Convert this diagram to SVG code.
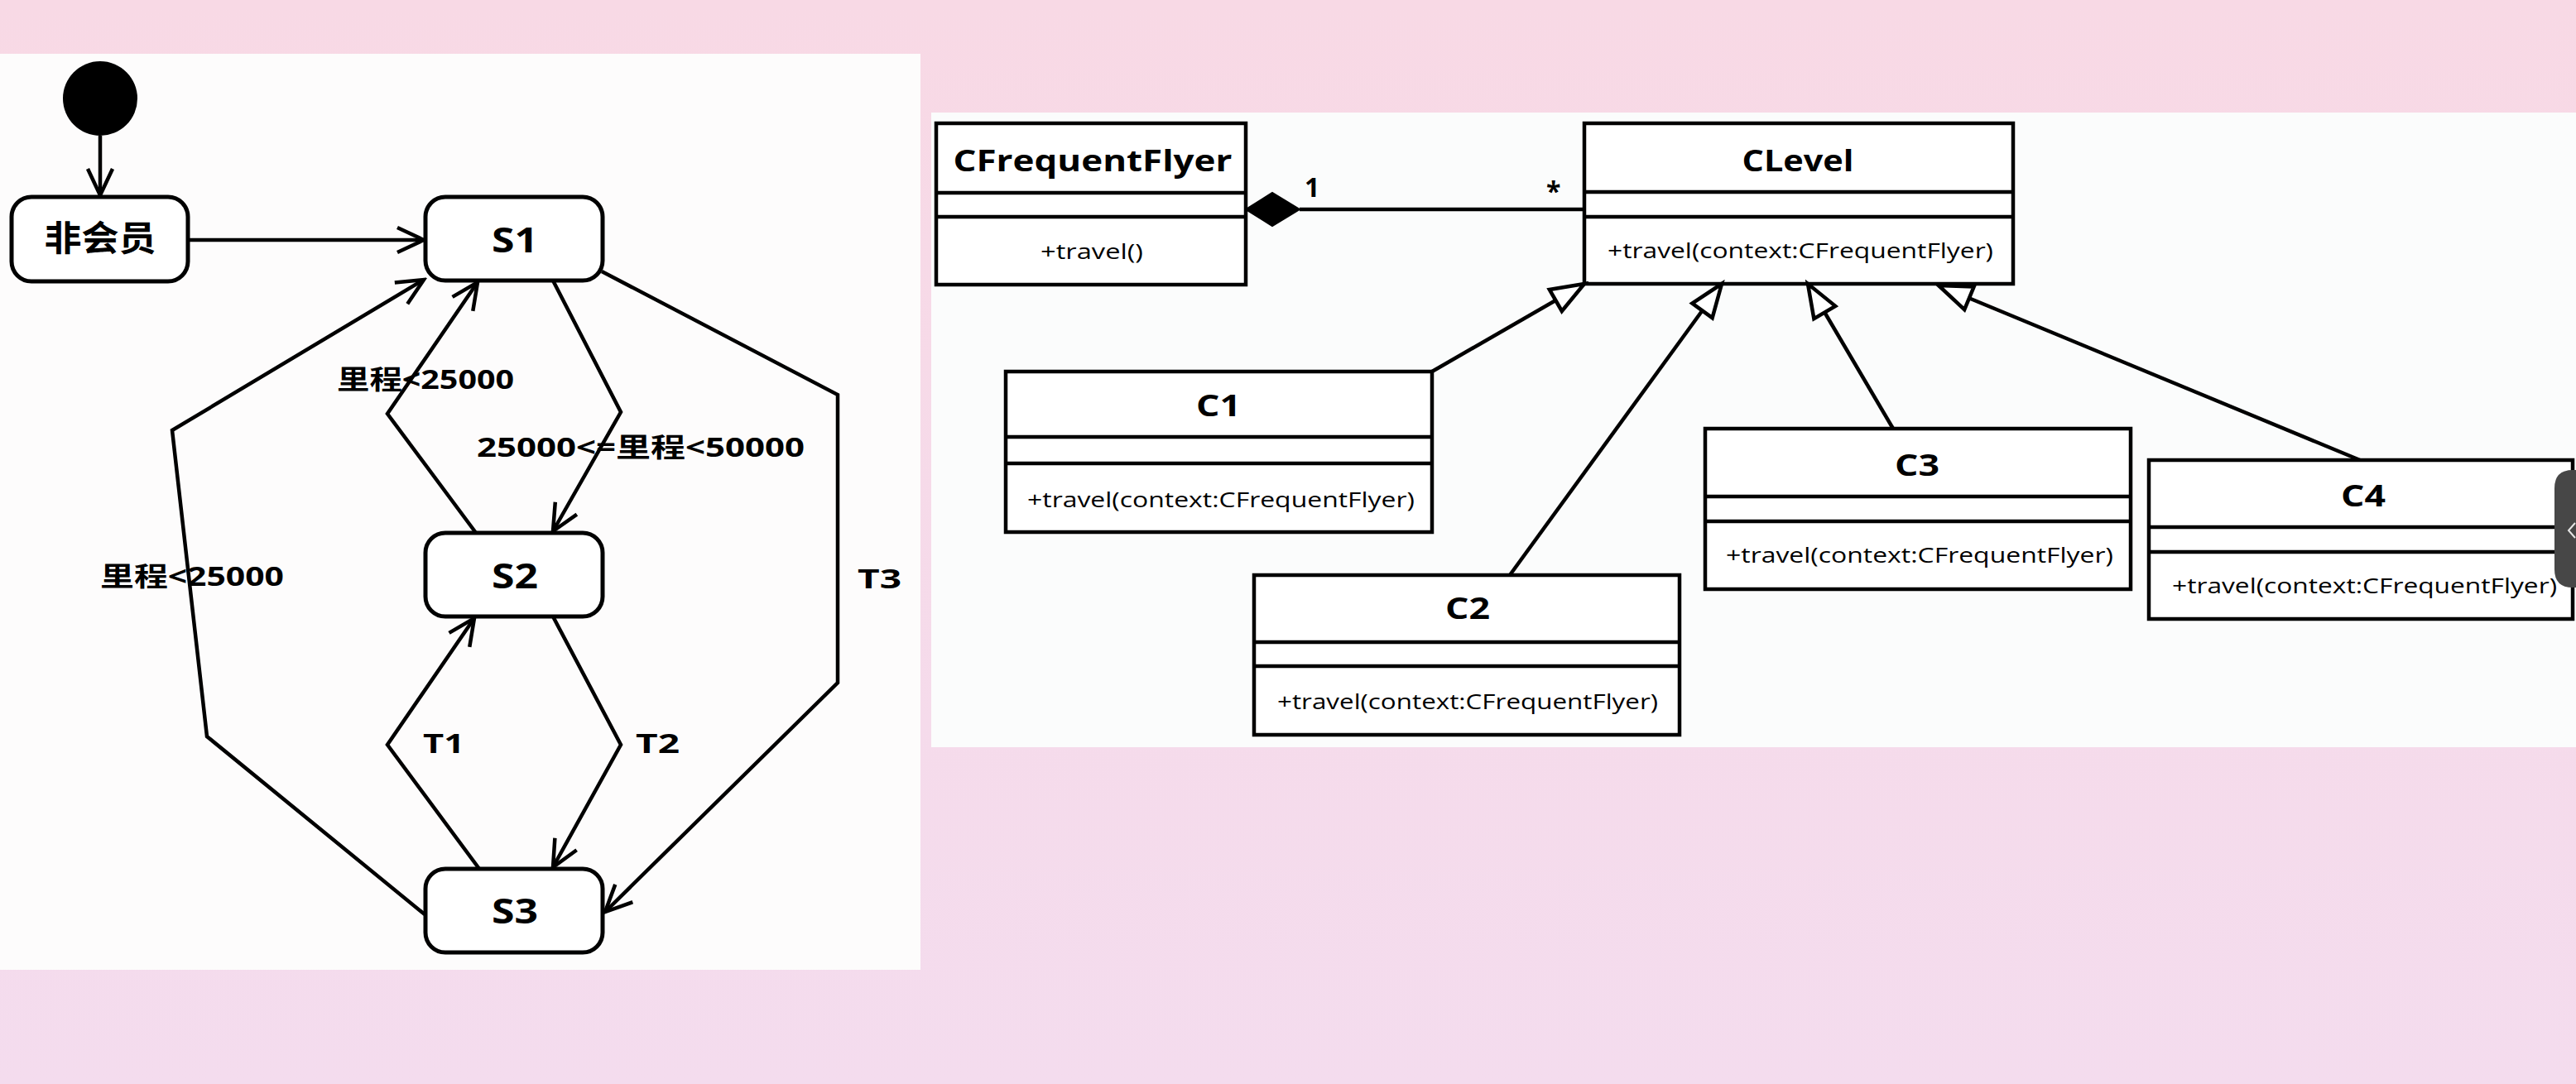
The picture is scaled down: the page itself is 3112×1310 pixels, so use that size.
<svg xmlns="http://www.w3.org/2000/svg" width="3112" height="1310" viewBox="0 0 3112 1310">
  <defs>
    <linearGradient id="bg" x1="0" y1="0" x2="0" y2="1">
      <stop offset="0" stop-color="#f8d9e5"/>
      <stop offset="1" stop-color="#f4dcee"/>
    </linearGradient>
    <marker id="open" markerUnits="userSpaceOnUse" viewBox="-40 -20 44 40" refX="0" refY="0" markerWidth="44" markerHeight="40" orient="auto">
      <path d="M-32,-15 L0,0 L-32,15" fill="none" stroke="#000" stroke-width="4.5" stroke-linejoin="miter"/>
    </marker>
    <marker id="gen" markerUnits="userSpaceOnUse" viewBox="-50 -25 56 50" refX="0" refY="0" markerWidth="56" markerHeight="50" orient="auto">
      <path d="M0,0 L-40,-15 L-40,15 Z" fill="#fff" stroke="#000" stroke-width="4.5" stroke-linejoin="miter"/>
    </marker>
  </defs>
  <style>
    .panel { stroke: none; }
    .state { fill: #fff; stroke: #000; stroke-width: 5; }
    .cls { fill: #fff; stroke: #000; stroke-width: 4.5; }
    .sep { stroke: #000; stroke-width: 4.5; }
    .edge { fill: none; stroke: #000; stroke-width: 4.5; stroke-linejoin: miter; }
    .st { font-family: "Open Sans", "Noto Sans CJK SC", sans-serif; font-weight: bold; fill: #000; text-anchor: middle; }
    .lbl { font-family: "Open Sans", "Noto Sans CJK SC", sans-serif; font-weight: bold; fill: #000; font-size: 32px; }
    .ct { font-family: "Open Sans", "Noto Sans CJK SC", sans-serif; font-weight: bold; fill: #000; text-anchor: middle; font-size: 35px; }
    .mt { font-family: "Open Sans", "Noto Sans CJK SC", sans-serif; fill: #000; font-size: 26px; }
  </style>

  <rect x="0" y="0" width="3112" height="1310" fill="url(#bg)"/>
  <rect class="panel" x="0" y="65" width="1112" height="1107" fill="#fdfcfc"/>
  <rect class="panel" x="1125" y="136" width="1987" height="767" fill="#fbfcfc"/>

  <!-- State diagram nodes -->
  <g id="initial">
    <circle cx="121" cy="119" r="45" fill="#000"/>
  </g>
  <g id="non-member">
    <rect class="state" x="14" y="238" width="213" height="102" rx="24"/>
    <text class="st" x="121" y="303" font-size="42" textLength="135" lengthAdjust="spacingAndGlyphs">非会员</text>
  </g>
  <g id="S1">
    <rect class="state" x="514" y="238" width="214" height="101" rx="24"/>
    <text class="st" x="622" y="305" font-size="42" textLength="56" lengthAdjust="spacingAndGlyphs">S1</text>
  </g>
  <g id="S2">
    <rect class="state" x="514" y="644" width="214" height="101" rx="24"/>
    <text class="st" x="622" y="711" font-size="42" textLength="56" lengthAdjust="spacingAndGlyphs">S2</text>
  </g>
  <g id="S3">
    <rect class="state" x="514" y="1050" width="214" height="101" rx="24"/>
    <text class="st" x="622" y="1116" font-size="42" textLength="56" lengthAdjust="spacingAndGlyphs">S3</text>
  </g>

  <!-- Class diagram nodes -->
  <g id="CFrequentFlyer">
    <rect class="cls" x="1131" y="149" width="374" height="195"/>
    <line class="sep" x1="1131" y1="233" x2="1505" y2="233"/>
    <line class="sep" x1="1131" y1="262" x2="1505" y2="262"/>
    <text class="ct" x="1320" y="207" textLength="337" lengthAdjust="spacingAndGlyphs">CFrequentFlyer</text>
    <text class="mt" x="1319" y="313" text-anchor="middle" textLength="124" lengthAdjust="spacingAndGlyphs">+travel()</text>
  </g>
  <g id="CLevel">
    <rect class="cls" x="1914" y="149" width="518" height="194"/>
    <line class="sep" x1="1914" y1="232" x2="2432" y2="232"/>
    <line class="sep" x1="1914" y1="262" x2="2432" y2="262"/>
    <text class="ct" x="2172" y="207" textLength="135" lengthAdjust="spacingAndGlyphs">CLevel</text>
    <text class="mt" x="1942" y="312" textLength="466" lengthAdjust="spacingAndGlyphs">+travel(context:CFrequentFlyer)</text>
  </g>
  <g id="C1">
    <rect class="cls" x="1215" y="449" width="515" height="194"/>
    <line class="sep" x1="1215" y1="528" x2="1730" y2="528"/>
    <line class="sep" x1="1215" y1="560" x2="1730" y2="560"/>
    <text class="ct" x="1472" y="503" textLength="54" lengthAdjust="spacingAndGlyphs">C1</text>
    <text class="mt" x="1241" y="613" textLength="468" lengthAdjust="spacingAndGlyphs">+travel(context:CFrequentFlyer)</text>
  </g>
  <g id="C2">
    <rect class="cls" x="1515" y="695" width="514" height="193"/>
    <line class="sep" x1="1515" y1="776" x2="2029" y2="776"/>
    <line class="sep" x1="1515" y1="805" x2="2029" y2="805"/>
    <text class="ct" x="1773" y="748" textLength="54" lengthAdjust="spacingAndGlyphs">C2</text>
    <text class="mt" x="1543" y="857" textLength="460" lengthAdjust="spacingAndGlyphs">+travel(context:CFrequentFlyer)</text>
  </g>
  <g id="C3">
    <rect class="cls" x="2060" y="518" width="514" height="194"/>
    <line class="sep" x1="2060" y1="600" x2="2574" y2="600"/>
    <line class="sep" x1="2060" y1="630" x2="2574" y2="630"/>
    <text class="ct" x="2316" y="575" textLength="54" lengthAdjust="spacingAndGlyphs">C3</text>
    <text class="mt" x="2085" y="680" textLength="468" lengthAdjust="spacingAndGlyphs">+travel(context:CFrequentFlyer)</text>
  </g>
  <g id="C4">
    <rect class="cls" x="2596" y="556" width="512" height="192"/>
    <line class="sep" x1="2596" y1="637" x2="3108" y2="637"/>
    <line class="sep" x1="2596" y1="667" x2="3108" y2="667"/>
    <text class="ct" x="2855" y="612" textLength="54" lengthAdjust="spacingAndGlyphs">C4</text>
    <text class="mt" x="2624" y="717" textLength="465" lengthAdjust="spacingAndGlyphs">+travel(context:CFrequentFlyer)</text>
  </g>

  <!-- Connectors -->
  <g id="connectors">
    <polyline class="edge" points="121,164 121,236" marker-end="url(#open)"/>
    <polyline class="edge" points="227,290 512,290" marker-end="url(#open)"/>
    <polyline class="edge" points="668,339 750,498 668,642" marker-end="url(#open)"/>
    <polyline class="edge" points="575,644 468,500 577,341" marker-end="url(#open)"/>
    <polyline class="edge" points="727,328 1012,477 1012,825 731,1102" marker-end="url(#open)"/>
    <polyline class="edge" points="513,1105 250,890 208,520 512,338" marker-end="url(#open)"/>
    <polyline class="edge" points="668,745 750,900 668,1048" marker-end="url(#open)"/>
    <polyline class="edge" points="579,1050 468,900 573,747" marker-end="url(#open)"/>

    <text class="lbl" x="407" y="470" textLength="214" lengthAdjust="spacingAndGlyphs">里程&lt;25000</text>
    <text class="lbl" x="576" y="552" textLength="396" lengthAdjust="spacingAndGlyphs">25000&lt;=里程&lt;50000</text>
    <text class="lbl" x="121" y="708" textLength="222" lengthAdjust="spacingAndGlyphs">里程&lt;25000</text>
    <text class="lbl" x="1036" y="711" font-size="40" textLength="53" lengthAdjust="spacingAndGlyphs">T3</text>
    <text class="lbl" x="511" y="910" font-size="40" textLength="50" lengthAdjust="spacingAndGlyphs">T1</text>
    <text class="lbl" x="768" y="910" font-size="40" textLength="53" lengthAdjust="spacingAndGlyphs">T2</text>

    <line class="edge" x1="1570" y1="253" x2="1914" y2="253"/>
    <polygon points="1505,253 1537,233 1570,253 1537,273" fill="#000" stroke="#000" stroke-width="2"/>
    <text class="lbl" x="1576" y="238" font-size="26">1</text>
    <text class="lbl" x="1868" y="243" font-size="19">*</text>

    <line class="edge" x1="1730" y1="449" x2="1914" y2="343" marker-end="url(#gen)"/>
    <line class="edge" x1="1824" y1="695" x2="2080" y2="343" marker-end="url(#gen)"/>
    <line class="edge" x1="2287" y1="518" x2="2184" y2="343" marker-end="url(#gen)"/>
    <line class="edge" x1="2851" y1="556" x2="2342" y2="345" marker-end="url(#gen)"/>
  </g>

  <!-- screen scroll handle at right edge -->
  <path d="M3112,568 L3108,568 Q3086,568 3086,590 L3086,688 Q3086,710 3108,710 L3112,710 Z" fill="#474747"/>
  <polyline points="3111,632 3103,641 3111,650" fill="none" stroke="#e6e6e6" stroke-width="2"/>
</svg>
